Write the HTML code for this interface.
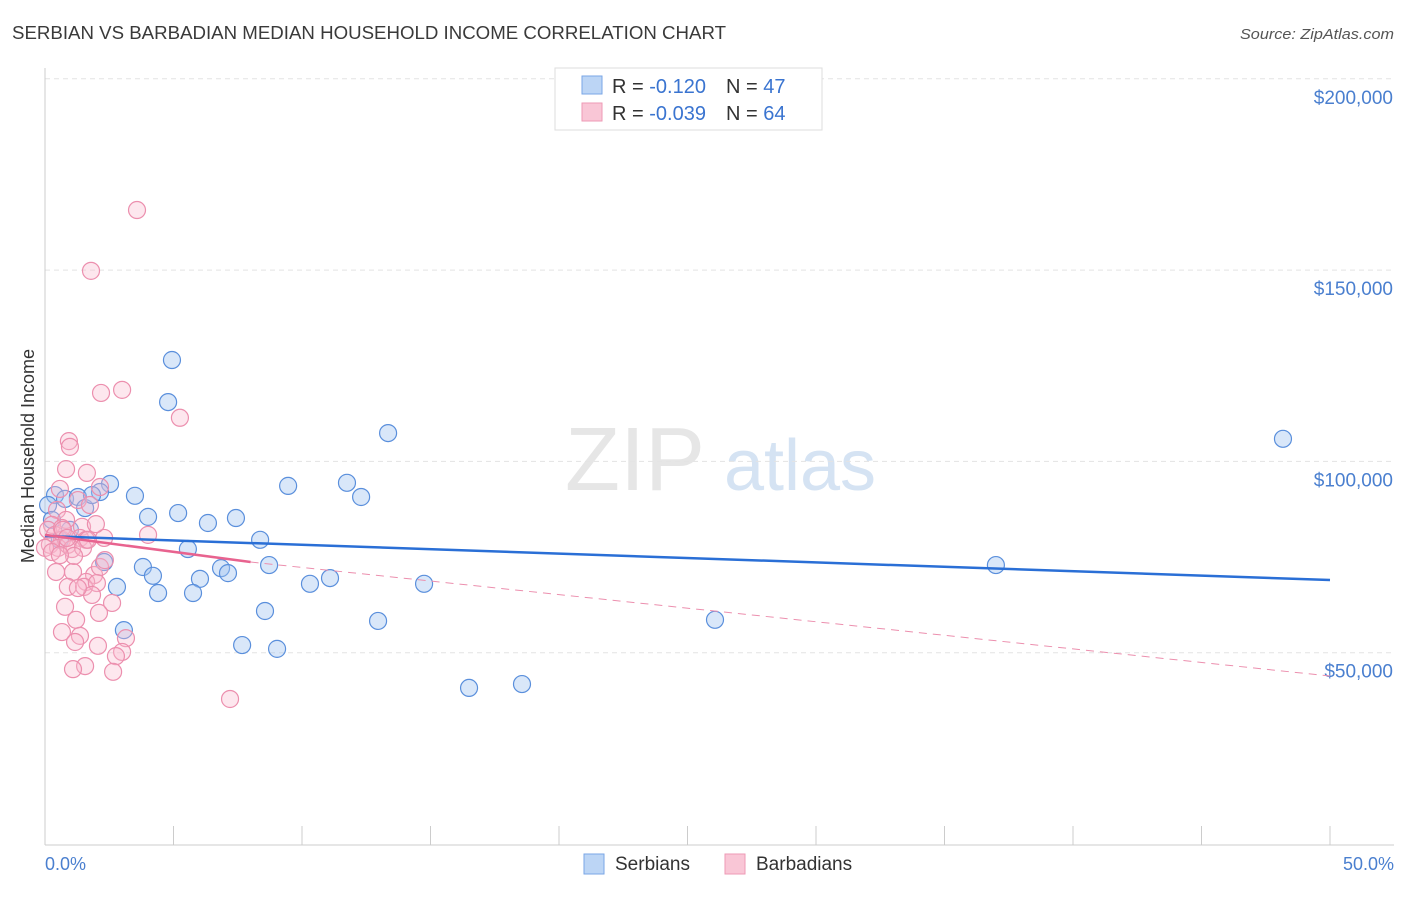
<!DOCTYPE html>
<html><head><meta charset="utf-8"><style>
body{margin:0;background:#fff;font-family:"Liberation Sans",sans-serif}
svg text{font-family:"Liberation Sans",sans-serif}
</style></head><body>
<svg id="chart" width="1406" height="892" xmlns="http://www.w3.org/2000/svg">
<text x="12" y="39" font-size="18" fill="#3a3a3a" textLength="714" lengthAdjust="spacingAndGlyphs">SERBIAN VS BARBADIAN MEDIAN HOUSEHOLD INCOME CORRELATION CHART</text>
<text x="1394" y="39" font-size="15" fill="#555" font-style="italic" text-anchor="end" textLength="154" lengthAdjust="spacingAndGlyphs">Source: ZipAtlas.com</text>
<g>
<text x="635" y="490" font-size="90" fill="#e6e6e6" text-anchor="middle" font-family="Liberation Serif">ZIP</text>
<text x="800" y="490" font-size="72" fill="#d5e3f3" text-anchor="middle">atlas</text>
</g>
<g id="grid"></g>
<line x1="45" y1="845" x2="1394" y2="845" stroke="#ccc"/>
<line x1="45" y1="68" x2="45" y2="845" stroke="#ccc"/>
<g id="ticks"></g>
<text transform="translate(34,456) rotate(-90)" font-size="18" fill="#333" text-anchor="middle">Median Household Income</text>
<text x="45" y="870" font-size="18" fill="#4a7fcf">0.0%</text>
<text x="1394" y="870" font-size="18" fill="#4a7fcf" text-anchor="end">50.0%</text>
<g id="points"></g>
<g id="trends"></g>
<g>
<rect x="555" y="68" width="267" height="62" fill="#fff" stroke="#ddd"/>
<rect x="582" y="76" width="20" height="18" fill="#bcd5f5" stroke="#7aa6e6"/>
<rect x="582" y="103" width="20" height="18" fill="#f9c6d6" stroke="#ee9ab5"/>
<text x="612" y="93" font-size="20" fill="#333">R = <tspan fill="#3a74d0">-0.120</tspan><tspan dx="20">N = </tspan><tspan fill="#3a74d0">47</tspan></text>
<text x="612" y="120" font-size="20" fill="#333">R = <tspan fill="#3a74d0">-0.039</tspan><tspan dx="20">N = </tspan><tspan fill="#3a74d0">64</tspan></text>
</g>
<g>
<rect x="584" y="854" width="20" height="20" fill="#bcd5f5" stroke="#7aa6e6"/>
<text x="615" y="870" font-size="19" fill="#333">Serbians</text>
<rect x="725" y="854" width="20" height="20" fill="#f9c6d6" stroke="#ee9ab5"/>
<text x="756" y="870" font-size="19" fill="#333">Barbadians</text>
</g>
</svg>
<script>
const yTicks=[50000,100000,150000,200000];
const yTickLabels=["$50,000","$100,000","$150,000","$200,000"];
const xTicks=[0,5,10,15,20,25,30,35,40,45,50];
const serbX=[4.94,4.79,13.35,48.17,2.53,0.39,0.78,1.28,2.14,3.5,1.56,9.46,11.75,12.3,4.01,5.18,6.34,7.43,8.37,5.56,2.3,3.81,4.2,2.8,4.4,6.03,6.85,7.12,8.72,5.76,10.31,11.09,14.75,8.56,12.96,26.07,7.67,9.03,3.07,16.5,18.56,37.0,0.12,1.83,0.27,0.58,0.97];
const serbY=[126.5,115.5,107.4,105.9,94.1,91.2,90.2,90.7,92.0,91.0,87.8,93.6,94.4,90.7,85.5,86.5,83.9,85.2,79.5,77.1,73.7,72.4,70.1,67.2,65.6,69.3,72.1,70.8,72.9,65.6,68.0,69.5,68.0,60.9,58.3,58.6,52.0,51.0,55.9,40.8,41.8,72.9,88.6,91.2,84.7,79.5,82.1];
const barbX=[3.58,1.79,3.0,2.18,5.25,0.93,0.97,0.82,1.63,0.58,2.14,1.28,1.75,0.47,0.82,1.44,0.27,0.12,0.39,0.66,0.19,0.51,0.89,1.36,1.6,2.3,4.01,1.05,0,0.27,0.66,1.09,1.91,2.14,0.89,1.6,1.52,2.02,2.61,0.78,2.1,1.21,0.66,1.36,1.17,2.06,3.15,3.0,2.76,1.56,1.09,2.65,7.2,1.98,0.7,2.33,0.86,1.48,1.13,0.43,1.67,0.58,1.83,1.28];
const barbY=[165.7,149.8,118.7,117.9,111.4,105.3,103.8,98.0,97.0,92.8,93.3,89.9,88.6,87.3,84.7,82.9,83.4,82.1,80.8,79.5,78.2,77.4,78.2,80.0,79.5,80.0,80.8,77.1,77.4,76.3,82.6,71.1,70.3,72.4,67.2,68.5,67.2,68.2,63.0,62.0,60.4,58.6,55.4,54.4,52.8,51.8,53.8,50.2,49.1,46.5,45.7,45.0,37.9,83.6,82.1,74.2,80.0,77.4,75.3,71.1,79.5,75.5,65.1,66.9];
const serbTrend=[[0,80.5],[50,69.0]];
const barbTrendSolid=[[0,80.8],[8,73.7]];
const barbTrendDash=[[8,73.7],[50,43.9]];
const NS="http://www.w3.org/2000/svg";
const X=v=>45+v/50*1285, Y=v=>844-v/50000*191.3;
function mk(t,a,p){const e=document.createElementNS(NS,t);for(const k in a)e.setAttribute(k,a[k]);document.getElementById(p).appendChild(e);return e;}
yTicks.forEach((v,i)=>{
 const l=mk('line',{x1:45,x2:1394,y1:Y(v),y2:Y(v),stroke:'#e3e3e3','stroke-dasharray':'5,4'},'grid');
 
 
 const t=mk('text',{x:1393,y:Y(v)+25,'font-size':19,fill:'#4a7fcf','text-anchor':'end'},'ticks');
 t.textContent=yTickLabels[i];
 
 
});
xTicks.forEach(v=>{
 const l=mk('line',{x1:X(v),x2:X(v),y1:826,y2:845,stroke:'#ccc'},'ticks');
 
 
});
serbX.forEach((v,i)=>{
 const c=mk('circle',{cx:X(v),cy:Y(serbY[i]*1000),r:8.5,fill:'rgba(160,196,240,0.4)',stroke:'#5a8fdc','stroke-width':1.2},'points');
 
 
});
barbX.forEach((v,i)=>{
 const c=mk('circle',{cx:X(v),cy:Y(barbY[i]*1000),r:8.5,fill:'rgba(248,185,205,0.35)',stroke:'#ec8fae','stroke-width':1.2},'points');
 
 
});
function tl(d,attrs,name){const l=mk('line',Object.assign({x1:X(d[0][0]),y1:Y(d[0][1]*1000),x2:X(d[1][0]),y2:Y(d[1][1]*1000)},attrs),'trends');
 
 }
tl(barbTrendDash,{stroke:'#ec8fae','stroke-width':1,'stroke-dasharray':'8,6'},'barbadian-trend-extension');
tl(serbTrend,{stroke:'#2a6fd6','stroke-width':2.5},'serbian-trend-line');
tl(barbTrendSolid,{stroke:'#e8638f','stroke-width':2.5},'barbadian-trend-line');
</script>
</body></html>
